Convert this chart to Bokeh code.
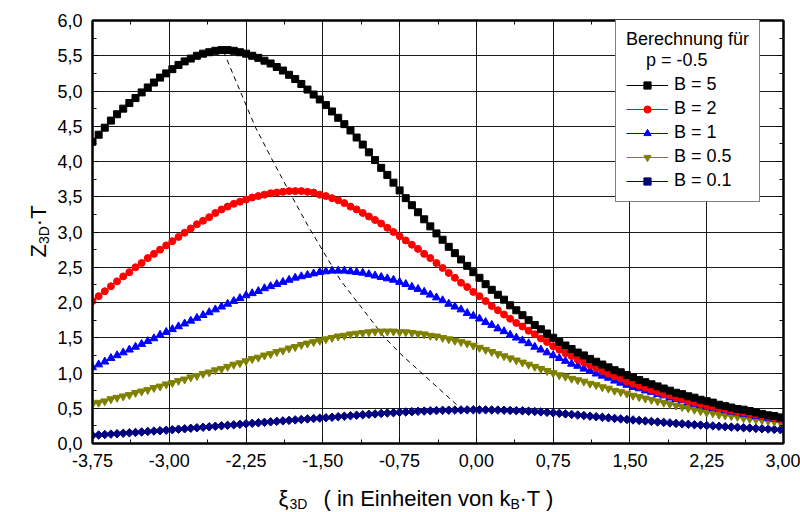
import math
from bokeh.plotting import figure
from bokeh.models import (Range1d, FixedTicker, LinearAxis, CustomJSTickFormatter,
                          Legend, LegendItem)
from bokeh.core.properties import value
from bokeh.embed import file_html
from bokeh.resources import INLINE

FONT = "Liberation Sans"

# axis ticks
x_ticks = [-3.75, -3.00, -2.25, -1.50, -0.75, 0.00, 0.75, 1.50, 2.25, 3.00]
x_minor = [-3.375, -2.625, -1.875, -1.125, -0.375, 0.375, 1.125, 1.875, 2.625]
y_ticks = [0.0, 0.5, 1.0, 1.5, 2.0, 2.5, 3.0, 3.5, 4.0, 4.5, 5.0, 5.5, 6.0]
y_minor = [0.25, 0.75, 1.25, 1.75, 2.25, 2.75, 3.25, 3.75, 4.25, 4.75, 5.25, 5.75]

# xi_3D sample points (k_B*T units)
xi = [
    -3.75, -3.69, -3.63, -3.57, -3.51, -3.45, -3.39, -3.33, -3.27, -3.21,
    -3.15, -3.09, -3.03, -2.97, -2.91, -2.85, -2.79, -2.73, -2.67, -2.61,
    -2.55, -2.49, -2.43, -2.37, -2.31, -2.25, -2.19, -2.13, -2.07, -2.01,
    -1.95, -1.89, -1.83, -1.77, -1.71, -1.65, -1.59, -1.53, -1.47, -1.41,
    -1.35, -1.29, -1.23, -1.17, -1.11, -1.05, -0.99, -0.93, -0.87, -0.81,
    -0.75, -0.69, -0.63, -0.57, -0.51, -0.45, -0.39, -0.33, -0.27, -0.21,
    -0.15, -0.09, -0.03, 0.03, 0.09, 0.15, 0.21, 0.27, 0.33, 0.39,
    0.45, 0.51, 0.57, 0.63, 0.69, 0.75, 0.81, 0.87, 0.93, 0.99,
    1.05, 1.11, 1.17, 1.23, 1.29, 1.35, 1.41, 1.47, 1.53, 1.59,
    1.65, 1.71, 1.77, 1.83, 1.89, 1.95, 2.01, 2.07, 2.13, 2.19,
    2.25, 2.31, 2.37, 2.43, 2.49, 2.55, 2.61, 2.67, 2.73, 2.79,
    2.85, 2.91, 2.97, 3.03,
]

# Z_3D*T for p = -0.5
z_b5 = [
    4.28, 4.38, 4.48, 4.58, 4.67, 4.75, 4.83, 4.90, 4.98, 5.05,
    5.12, 5.19, 5.25, 5.31, 5.37, 5.42, 5.46, 5.50, 5.53, 5.55,
    5.57, 5.58, 5.58, 5.57, 5.55, 5.53, 5.50, 5.47, 5.43, 5.39,
    5.34, 5.29, 5.23, 5.17, 5.10, 5.02, 4.95, 4.88, 4.80, 4.71,
    4.62, 4.53, 4.44, 4.34, 4.24, 4.13, 4.02, 3.91, 3.81, 3.70,
    3.59, 3.48, 3.38, 3.28, 3.18, 3.08, 2.98, 2.89, 2.79, 2.70,
    2.61, 2.52, 2.43, 2.35, 2.26, 2.18, 2.11, 2.04, 1.96, 1.89,
    1.82, 1.75, 1.68, 1.62, 1.56, 1.50, 1.44, 1.39, 1.34, 1.29,
    1.25, 1.20, 1.16, 1.12, 1.08, 1.04, 1.01, 0.97, 0.94, 0.90,
    0.87, 0.84, 0.81, 0.78, 0.75, 0.72, 0.70, 0.67, 0.65, 0.62,
    0.60, 0.58, 0.55, 0.53, 0.51, 0.49, 0.48, 0.46, 0.44, 0.42,
    0.40, 0.39, 0.37, 0.35,
]
z_b2 = [
    2.02, 2.09, 2.16, 2.23, 2.30, 2.37, 2.43, 2.50, 2.56, 2.63,
    2.69, 2.75, 2.81, 2.87, 2.93, 2.99, 3.05, 3.11, 3.16, 3.21,
    3.27, 3.32, 3.36, 3.40, 3.43, 3.46, 3.49, 3.51, 3.53, 3.55,
    3.56, 3.57, 3.58, 3.58, 3.58, 3.57, 3.56, 3.53, 3.51, 3.48,
    3.45, 3.41, 3.36, 3.32, 3.27, 3.22, 3.17, 3.12, 3.06, 3.00,
    2.94, 2.88, 2.82, 2.76, 2.69, 2.63, 2.56, 2.49, 2.42, 2.35,
    2.28, 2.22, 2.15, 2.09, 2.02, 1.95, 1.89, 1.83, 1.77, 1.71,
    1.66, 1.60, 1.55, 1.49, 1.44, 1.38, 1.33, 1.28, 1.24, 1.19,
    1.15, 1.11, 1.07, 1.03, 0.99, 0.95, 0.92, 0.88, 0.85, 0.82,
    0.79, 0.76, 0.73, 0.70, 0.68, 0.65, 0.63, 0.60, 0.58, 0.56,
    0.54, 0.52, 0.50, 0.49, 0.47, 0.45, 0.44, 0.42, 0.41, 0.39,
    0.38, 0.36, 0.35, 0.34,
]
z_b1 = [
    1.08, 1.12, 1.16, 1.21, 1.25, 1.29, 1.33, 1.37, 1.41, 1.45,
    1.49, 1.54, 1.58, 1.62, 1.66, 1.70, 1.74, 1.78, 1.82, 1.86,
    1.90, 1.94, 1.98, 2.02, 2.06, 2.10, 2.13, 2.16, 2.20, 2.23,
    2.26, 2.29, 2.32, 2.35, 2.37, 2.39, 2.41, 2.43, 2.44, 2.45,
    2.45, 2.45, 2.44, 2.43, 2.42, 2.40, 2.38, 2.36, 2.34, 2.32,
    2.29, 2.26, 2.22, 2.19, 2.15, 2.11, 2.07, 2.03, 1.98, 1.94,
    1.90, 1.85, 1.81, 1.77, 1.72, 1.68, 1.63, 1.59, 1.54, 1.50,
    1.46, 1.42, 1.37, 1.33, 1.29, 1.25, 1.21, 1.17, 1.13, 1.10,
    1.06, 1.03, 0.99, 0.96, 0.93, 0.89, 0.86, 0.83, 0.80, 0.78,
    0.75, 0.73, 0.70, 0.68, 0.65, 0.63, 0.61, 0.58, 0.56, 0.54,
    0.52, 0.50, 0.49, 0.47, 0.45, 0.44, 0.42, 0.41, 0.39, 0.38,
    0.36, 0.35, 0.34, 0.33,
]
z_b05 = [
    0.56, 0.58, 0.60, 0.63, 0.65, 0.67, 0.69, 0.72, 0.74, 0.76,
    0.79, 0.81, 0.84, 0.86, 0.89, 0.91, 0.94, 0.96, 0.99, 1.01,
    1.04, 1.06, 1.09, 1.12, 1.14, 1.17, 1.20, 1.22, 1.25, 1.27,
    1.30, 1.32, 1.35, 1.37, 1.40, 1.42, 1.44, 1.46, 1.48, 1.50,
    1.52, 1.53, 1.55, 1.56, 1.57, 1.58, 1.59, 1.59, 1.59, 1.59,
    1.58, 1.58, 1.57, 1.56, 1.55, 1.53, 1.52, 1.50, 1.48, 1.46,
    1.44, 1.42, 1.39, 1.36, 1.33, 1.30, 1.27, 1.24, 1.21, 1.18,
    1.15, 1.12, 1.09, 1.06, 1.03, 1.00, 0.97, 0.95, 0.92, 0.90,
    0.88, 0.85, 0.83, 0.80, 0.78, 0.75, 0.73, 0.71, 0.68, 0.66,
    0.64, 0.62, 0.60, 0.58, 0.56, 0.54, 0.52, 0.50, 0.48, 0.46,
    0.44, 0.43, 0.41, 0.40, 0.39, 0.38, 0.36, 0.35, 0.34, 0.33,
    0.32, 0.31, 0.30, 0.29,
]
z_b01 = [
    0.115, 0.121, 0.127, 0.133, 0.139, 0.145, 0.151, 0.157, 0.163, 0.170,
    0.176, 0.182, 0.189, 0.196, 0.203, 0.209, 0.216, 0.223, 0.230, 0.237,
    0.244, 0.251, 0.258, 0.265, 0.272, 0.279, 0.286, 0.293, 0.300, 0.307,
    0.314, 0.321, 0.328, 0.335, 0.341, 0.348, 0.354, 0.360, 0.366, 0.372,
    0.380, 0.387, 0.394, 0.401, 0.408, 0.414, 0.420, 0.426, 0.432, 0.437,
    0.442, 0.447, 0.452, 0.456, 0.460, 0.464, 0.467, 0.470, 0.472, 0.474,
    0.476, 0.477, 0.478, 0.478, 0.477, 0.476, 0.474, 0.472, 0.469, 0.466,
    0.463, 0.459, 0.454, 0.448, 0.442, 0.435, 0.428, 0.420, 0.412, 0.404,
    0.396, 0.388, 0.380, 0.372, 0.364, 0.356, 0.349, 0.341, 0.334, 0.327,
    0.320, 0.313, 0.306, 0.299, 0.292, 0.285, 0.279, 0.273, 0.267, 0.261,
    0.255, 0.250, 0.244, 0.239, 0.234, 0.229, 0.224, 0.219, 0.214, 0.209,
    0.205, 0.200, 0.196, 0.192,
]

# locus of the maxima
peak_x = [-2.47, -2.16, -2.00, -1.82, -1.65, -1.33, -0.90, -0.74, -0.14]
peak_y = [5.56, 4.49, 4.04, 3.55, 3.10, 2.32, 1.51, 1.27, 0.48]

series = [
    ("B = 5", z_b5, "#000000", "square", 7, 0.0),
    ("B = 2", z_b2, "#ff0000", "circle", 7, 0.0),
    ("B = 1", z_b1, "#0000ff", "triangle", 8, 0.0),
    ("B = 0.5", z_b05, "#808000", "inverted_triangle", 8, 0.0),
    ("B = 0.1", z_b01, "#000080", "square", 6, math.pi / 4),
]

X0, X1, Y0, Y1 = -3.75, 3.0, 0.0, 6.0
FRAME_W, FRAME_H = 691, 423

p = figure(width=800, height=512, output_backend="svg", toolbar_location=None,
           x_range=Range1d(X0, X1), y_range=Range1d(Y0, Y1),
           min_border_left=92, min_border_right=17,
           min_border_top=20, min_border_bottom=69,
           background_fill_color="white", border_fill_color="white")
p.outline_line_color = "black"
p.outline_line_width = 2

xticker = FixedTicker(ticks=x_ticks, minor_ticks=x_minor)
yticker = FixedTicker(ticks=y_ticks, minor_ticks=y_minor)

p.xgrid.ticker = FixedTicker(ticks=x_ticks)
p.ygrid.ticker = FixedTicker(ticks=y_ticks)
for g in (p.xgrid[0], p.ygrid[0]):
    g.grid_line_color = "#1a1a1a"
    g.grid_line_width = 1

x_fmt = CustomJSTickFormatter(code="return tick.toFixed(2).replace('.', ',');")
y_fmt = CustomJSTickFormatter(code="return tick.toFixed(1).replace('.', ',');")


def style_axis(ax, ticker, fmt, labels=True):
    ax.ticker = ticker
    ax.formatter = fmt
    ax.axis_line_color = "black"
    ax.axis_line_width = 2
    ax.major_tick_in = 6
    ax.major_tick_out = 0
    ax.minor_tick_in = 4
    ax.minor_tick_out = 0
    ax.major_tick_line_color = "black"
    ax.minor_tick_line_color = "black"
    ax.major_tick_line_width = 1
    ax.minor_tick_line_width = 1
    if labels:
        ax.major_label_text_font = FONT
        ax.major_label_text_font_size = "18px"
        ax.major_label_text_color = "black"
        ax.major_label_standoff = 10
    else:
        # mirrored axis: ticks only
        ax.major_label_text_font_size = "1px"
        ax.major_label_text_color = None
        ax.major_label_standoff = 0


style_axis(p.xaxis[0], xticker, x_fmt)
style_axis(p.yaxis[0], yticker, y_fmt)
top_axis = LinearAxis()
right_axis = LinearAxis()
style_axis(top_axis, xticker, x_fmt, labels=False)
style_axis(right_axis, yticker, y_fmt, labels=False)
p.add_layout(top_axis, "above")
p.add_layout(right_axis, "right")

# dashed connection of the maxima
p.line(peak_x, peak_y, line_color="black", line_width=1, line_dash="5 4")

items = {}
for label, z, color, marker, size, angle in reversed(series):
    rl = p.line(xi, z, line_color=color, line_width=1)
    rs = p.scatter(xi, z, marker=marker, size=size, angle=angle,
                   fill_color=color, line_color=color)
    items[label] = (rl, rs)

NBSP = "\u00a0"
legend = Legend(
    items=[LegendItem(label=s[0], renderers=list(items[s[0]])) for s in series],
    location=(523, 241),
    title="Berechnung für\n" + NBSP * 4 + "p = -0.5",
    title_text_font=FONT, title_text_font_size="18px",
    title_text_font_style="normal", title_text_color="black",
    title_standoff=3,
    label_text_font=FONT, label_text_font_size="18px", label_text_color="black",
    glyph_width=42, glyph_height=18, label_height=20, label_standoff=6,
    spacing=3, padding=10, margin=0,
    border_line_color="black", border_line_width=1,
    background_fill_color="white", background_fill_alpha=1.0,
)
p.add_layout(legend)


def frame_px(fx, fy):
    # pixel offsets from the lower-left frame corner -> data coordinates
    return (X0 + fx * (X1 - X0) / FRAME_W, Y0 + fy * (Y1 - Y0) / FRAME_H)


def add_texts(pieces, size, angle=0.0):
    xs, ys, ts = [], [], []
    for fx, fy, t in pieces:
        x, y = frame_px(fx, fy)
        xs.append(x)
        ys.append(y)
        ts.append(t)
    # overlay level keeps the axis titles outside the frame from being clipped
    p.text(x=xs, y=ys, text=ts, angle=angle, text_font=value(FONT),
           text_font_size=size, text_color="black", text_align="left",
           text_baseline="alphabetic", level="overlay")


# x axis title: xi_3D ( in Einheiten von k_B*T )
add_texts([(186, -55, "ξ"), (231, -55, "( in Einheiten von k"), (427, -55, "·T )")], "22px")
add_texts([(197, -60, "3D"), (418, -60, "B")], "14px")

# y axis title: Z_3D*T
add_texts([(-54, 186, "Z"), (-54, 217.3, "·T")], "22px", math.pi / 2)
add_texts([(-49, 199.4, "3D")], "14px", math.pi / 2)

open("out.html", "w").write(file_html(p, INLINE))
